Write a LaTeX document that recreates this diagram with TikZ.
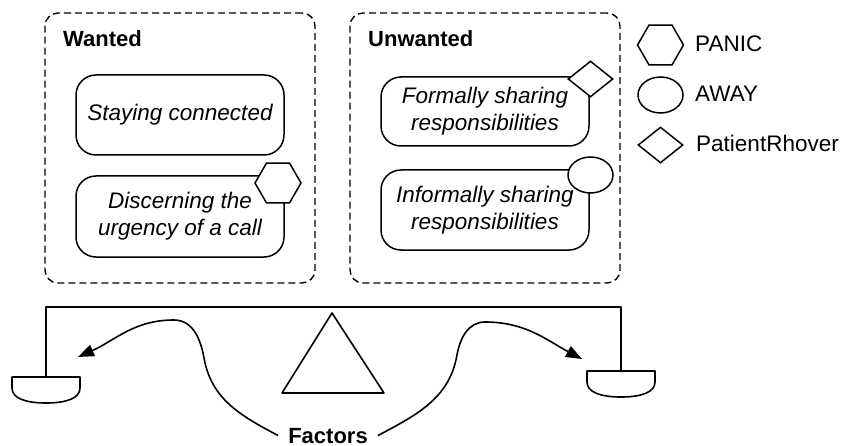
\documentclass[tikz,border=0pt]{standalone}
\usepackage{fontspec}
\setmainfont{Liberation Sans}
\usetikzlibrary{shapes.geometric,arrows.meta}
\begin{document}
\begin{tikzpicture}[x=1pt,y=1pt,
  every node/.style={font=\fontsize{22.5}{27}\selectfont},
  groupbox/.style={draw, line width=1.4pt, dash pattern=on 7pt off 4pt, rounded corners=13pt, minimum width=270pt, minimum height=270pt, inner sep=0pt},
  item/.style={draw, line width=1.5pt, rounded corners=20pt, minimum width=208pt, align=center, font=\fontsize{22.5}{27}\selectfont\itshape, inner sep=0pt},
  marker/.style={draw, fill=white, line width=1.5pt, inner sep=0pt},
  hexmark/.style={marker, regular polygon, regular polygon sides=6, minimum size=46pt},
  ovalmark/.style={marker, ellipse, minimum width=45pt, minimum height=36pt},
  diamark/.style={marker, diamond, minimum width=45pt, minimum height=36pt},
  heading/.style={font=\fontsize{22}{26}\selectfont\bfseries, anchor=base west, inner sep=0pt},
  legendtext/.style={anchor=base west, inner sep=0pt},
  wire/.style={line width=1.6pt, line join=round},
  flow/.style={line width=1.6pt, -{Triangle[length=16pt,width=12pt]}},
  pan/.pic={
    \draw[wire] (-34,0) -- (-34,-11) .. controls (-34,-21) and (-21,-26) .. (0,-26)
      .. controls (21,-26) and (34,-21) .. (34,-11) -- (34,0) -- cycle;
    \draw[line width=2.2pt] (-34,0) -- (34,0);
  },
]
\useasboundingbox (0,0) rectangle (842,-446);

% group frames
\node[groupbox] (wanted) at (180,-148) {};
\node[groupbox] (unwanted) at (485,-148) {};
\node[heading] (wantedlabel) at (63,-47) {Wanted};
\node[heading] (unwantedlabel) at (368,-47) {Unwanted};

% themes
\node[item, minimum height=80pt] (stay) at (180,-115) {Staying connected};
\node[item, minimum height=81pt] (disc) at (180,-216.5) {Discerning the\\urgency of a call};
\node[item, minimum height=69pt] (formal) at (485,-111.5) {Formally sharing\\responsibilities};
\node[item, minimum height=80pt] (informal) at (485,-210) {Informally sharing\\responsibilities};

% markers on themes
\node[hexmark] (discmark) at (278,-183) {};
\node[diamark] (formalmark) at (590.5,-79) {};
\node[ovalmark] (informalmark) at (590.5,-175) {};

% legend
\node[hexmark] (lgpanic) at (660.5,-45) {};
\node[legendtext] (lgpanictext) at (695,-52) {PANIC};
\node[ovalmark] (lgaway) at (660.5,-95) {};
\node[legendtext] (lgawaytext) at (695,-102) {AWAY};
\node[diamark] (lgrhover) at (660.5,-145) {};
\node[legendtext] (lgrhovertext) at (696,-152) {PatientRhover};

% balance
\coordinate (lhang) at (46,-377);
\coordinate (rhang) at (621,-371);
\coordinate (beamtop) at (330,-307);
\draw[wire] (lhang) |- (beamtop) -| (rhang);
\pic at (lhang) {pan};
\pic at (rhang) {pan};
\coordinate (apex) at (332,-313);
\coordinate (baseR) at (384,-393);
\coordinate (baseL) at (282,-393);
\draw[wire] (apex) -- (baseR) -- (baseL) -- cycle;

% factors pulling both ways
\node[font=\fontsize{22}{26}\selectfont\bfseries, inner xsep=10pt, inner ysep=0pt, anchor=base] (factors) at (328,-443) {Factors};
\coordinate (ltip) at (78,-357);
\coordinate (rtip) at (582,-359);
\draw[flow] (factors.west) to[out=152,in=-80] (204,-358) to[out=100,in=0] (174,-320) to[out=180,in=24] (ltip);
\draw[flow] (factors.east) to[out=28,in=-100] (457,-355) to[out=80,in=180] (485,-322) to[out=0,in=152] (rtip);
\end{tikzpicture}
\end{document}
